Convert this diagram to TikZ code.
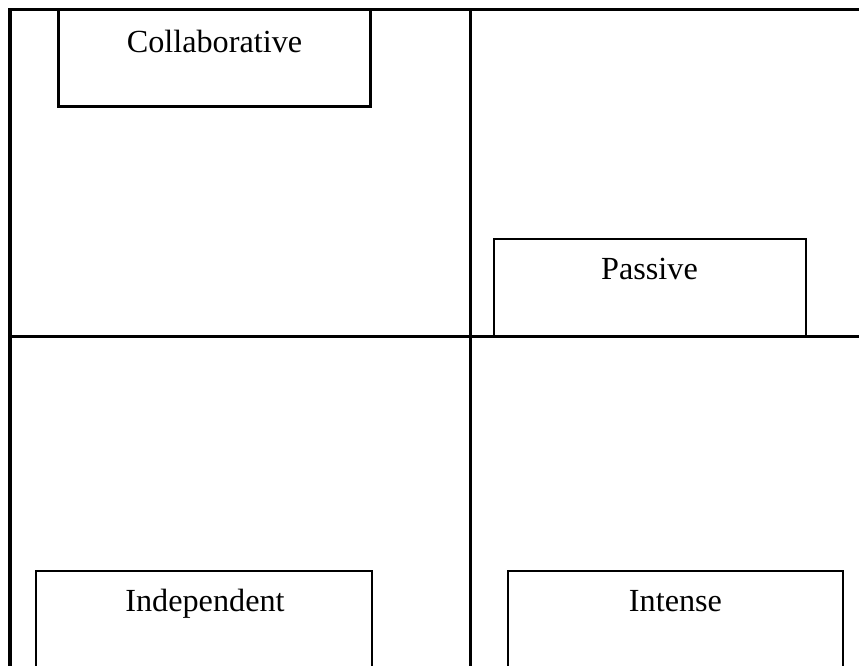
\documentclass[tikz,border=0pt]{standalone}
\usepackage{fontspec}
\setmainfont{Liberation Serif}

\begin{document}
\begin{tikzpicture}[x=0.03cm, y=-0.03cm,
    frame/.style={black, line width=2.6pt},
    quadbox/.style={black, line width=1.8pt},
    every node/.style={font=\fontsize{27.5}{32}\selectfont, inner sep=0pt, anchor=base}]

\clip (0,0) rectangle (859,666);

% Quadrant lines
\coordinate (tl) at (10,9.5);
\coordinate (tr) at (859,9.5);
\coordinate (bl) at (10,666);
\coordinate (mt) at (470.5,9.5);
\coordinate (mb) at (470.5,666);
\coordinate (ml) at (10,336.5);
\coordinate (mr) at (859,336.5);
\draw[frame] (bl) -- (tl) -- (tr);
\draw[frame] (mt) -- (mb);
\draw[frame] (ml) -- (mr);

% Boxes
\draw[quadbox] (58.5,10)  rectangle (370.5,106.5);
\draw[quadbox] (494,239)  rectangle (806,336);
\draw[quadbox] (36,571)   rectangle (372,690);
\draw[quadbox] (508,571)  rectangle (843,690);

% Labels
\node (collab) at (214.5,52.5)  {Collaborative};
\node (passive) at (649.5,279)  {Passive};
\node (indep) at (205,611)      {Independent};
\node (intense) at (675.5,611.5) {Intense};

\end{tikzpicture}
\end{document}
